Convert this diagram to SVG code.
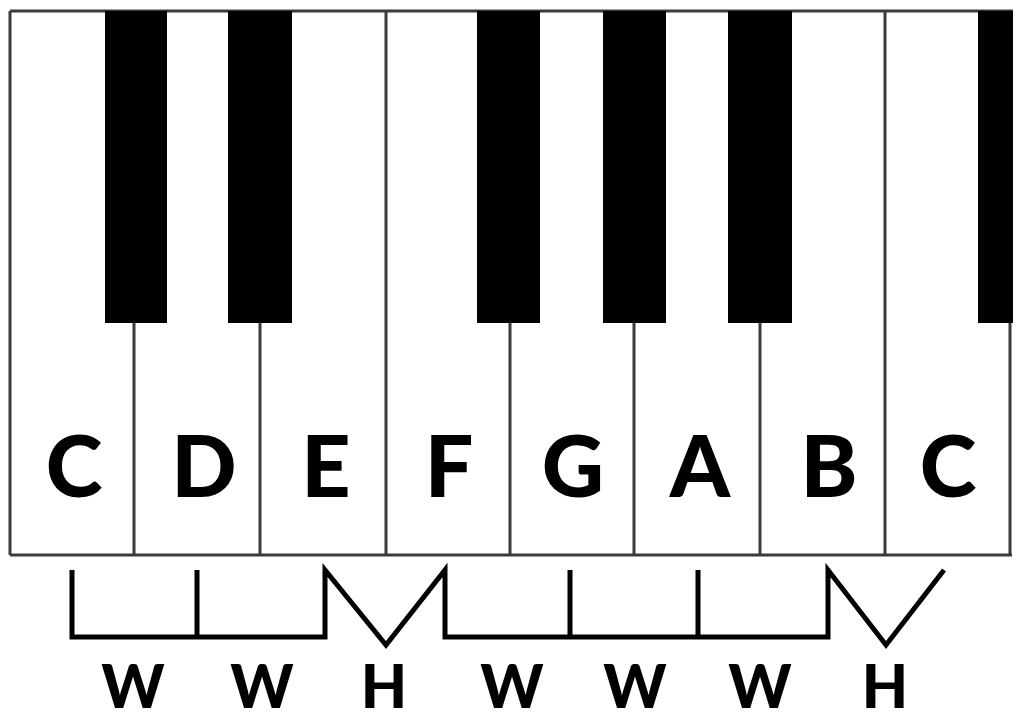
<svg xmlns="http://www.w3.org/2000/svg" width="1024" height="724" viewBox="0 0 1024 724">
  <style>
    .edge { stroke: #3a3a3a; stroke-width: 3; fill: none; }
    .black { fill: #000; }
    .note { font-family: Lato, "Liberation Sans", sans-serif; font-weight: 900; font-size: 86px; fill: #000; text-anchor: middle; }
    .step { font-family: Lato, "Liberation Sans", sans-serif; font-weight: 900; font-size: 60px; fill: #000; text-anchor: middle; }
    .bracket { stroke: #000; stroke-width: 5; fill: none; stroke-linejoin: miter; stroke-linecap: butt; }
  </style>
  <rect width="1024" height="724" fill="#fff"/>
  <g id="keyboard">
    <g id="white-keys">
      <line class="edge" x1="10" y1="11" x2="1013" y2="11"/>
      <line class="edge" x1="10" y1="555" x2="1012" y2="555" stroke-width="4" stroke="#4a4a4a"/>
      <line class="edge" x1="10" y1="11" x2="10" y2="555"/>
      <line class="edge" x1="134" y1="323" x2="134" y2="555"/>
      <line class="edge" x1="260" y1="323" x2="260" y2="555"/>
      <line class="edge" x1="386" y1="11" x2="386" y2="555"/>
      <line class="edge" x1="510" y1="323" x2="510" y2="555"/>
      <line class="edge" x1="634" y1="323" x2="634" y2="555"/>
      <line class="edge" x1="760" y1="323" x2="760" y2="555"/>
      <line class="edge" x1="885" y1="11" x2="885" y2="555"/>
      <line class="edge" x1="1010" y1="323" x2="1010" y2="555"/>
    </g>
    <g id="black-keys">
      <rect class="black" x="105" y="11" width="62" height="312"/>
      <rect class="black" x="228" y="11" width="64" height="312"/>
      <rect class="black" x="477" y="11" width="63" height="312"/>
      <rect class="black" x="603" y="11" width="63" height="312"/>
      <rect class="black" x="728" y="11" width="64" height="312"/>
      <rect class="black" x="978" y="11" width="35" height="312"/>
    </g>
  </g>
  <g id="note-labels">
    <text id="note-c1" class="note" x="74" y="497">C</text>
    <text id="note-d" class="note" x="204" y="497">D</text>
    <text id="note-e" class="note" x="326" y="497">E</text>
    <text id="note-f" class="note" x="449" y="497">F</text>
    <text id="note-g" class="note" x="573" y="497">G</text>
    <text id="note-a" class="note" x="700" y="497">A</text>
    <text id="note-b" class="note" x="829" y="497">B</text>
    <text id="note-c2" class="note" x="948" y="497">C</text>
  </g>
  <g id="connectors">
    <path class="bracket" d="M72,570 V637 H325 V570 L386,645 L445,570 V637 H828 V570 L886,645 L944,570"/>
    <line class="bracket" x1="197" y1="570" x2="197" y2="637"/>
    <line class="bracket" x1="570" y1="570" x2="570" y2="637"/>
    <line class="bracket" x1="698" y1="570" x2="698" y2="637"/>
  </g>
  <g id="step-labels">
    <text class="step" x="133" y="708">W</text>
    <text class="step" x="262" y="708">W</text>
    <text class="step" x="384" y="708">H</text>
    <text class="step" x="512" y="708">W</text>
    <text class="step" x="635" y="708">W</text>
    <text class="step" x="760" y="708">W</text>
    <text class="step" x="885" y="708">H</text>
  </g>
</svg>
